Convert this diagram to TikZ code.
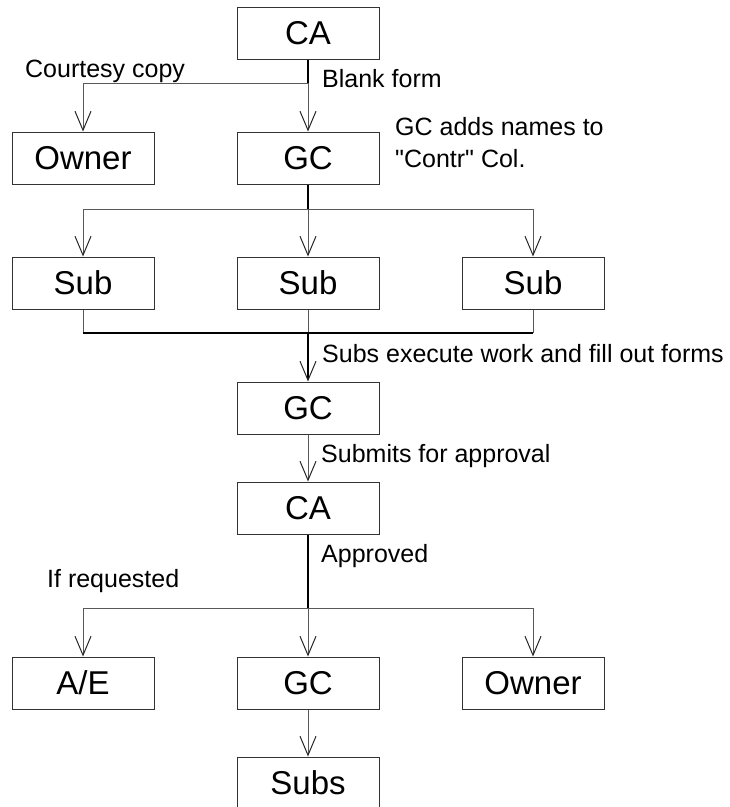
\documentclass[tikz,border=0pt]{standalone}
\usepackage{fontspec}
\setmainfont{Liberation Sans}[Ligatures=TeXOff]
\usetikzlibrary{arrows.meta}
\begin{document}
\begin{tikzpicture}[x=1pt,y=-1pt,
 box/.style={draw=black!80,line width=1pt,minimum width=142pt,minimum height=52pt,inner sep=0pt,
  text height=23pt,text depth=0pt,font=\fontsize{33}{39}\selectfont},
 note/.style={anchor=base west,inner sep=0pt,align=left,font=\fontsize{25}{32}\selectfont},
 ln/.style={black!65,line width=1pt},
 tr/.style={black,line width=1.5pt},
 arr/.style={ln,-{Straight Barb[length=19pt,width=16pt,line width=1pt,color=black!85]}}]
\useasboundingbox (0,0) rectangle (730,807);
% boxes
\node[box] (ca1) at (308,33) {CA};
\node[box] (owner1) at (83,158) {Owner};
\node[box] (gc1) at (308,158) {GC};
\foreach \X [count=\Y] in {83,308,533} \node[box] (sub\Y) at (\X,283) {Sub};
\node[box] (gc2) at (308,408) {GC};
\node[box] (ca2) at (308,508) {CA};
\node[box] (ae) at (83,683) {A/E};
\node[box] (gc3) at (308,683) {GC};
\node[box] (owner2) at (533,683) {Owner};
\node[box] (subs) at (308,783) {Subs};
% notes
\node[note] (n1) at (25,77) {Courtesy copy};
\node[note] (n2) at (322,87) {Blank form};
\node[note] (n3) at (395,167) {GC adds names to\\"Contr" Col.};
\node[note] (n4) at (322,362) {Subs execute work and fill out forms};
\node[note] (n5) at (321,462) {Submits for approval};
\node[note] (n6) at (321,562) {Approved};
\node[note] (n7) at (47,587) {If requested};
% connectors
\coordinate (j1) at (308,83);
\coordinate (j2) at (308,209);
\coordinate (j3) at (308,333);
\coordinate (j4) at (308,608);
\draw[tr] (ca1) -- (j1);
\draw[arr] (j1) -- (gc1);
\draw[arr] (j1) -| (owner1);
\draw[tr] (gc1) -- (j2);
\draw[arr] (j2) -- (sub2);
\foreach \Y in {1,3} \draw[arr] (j2) -| (sub\Y);
\draw[ln] foreach \Y in {1,2,3} {(sub\Y) -- (sub\Y |- j3)};
\draw[tr] (sub1 |- j3) -- (sub3 |- j3);
\draw[arr,black,line width=1.5pt] (j3) -- (gc2);
\draw[arr] (gc2) -- (ca2);
\draw[tr] (ca2) -- (j4);
\draw[arr] (j4) -- (gc3);
\draw[arr] (j4) -| (ae);
\draw[arr] (j4) -| (owner2);
\draw[arr] (gc3) -- (subs);
\end{tikzpicture}
\end{document}
